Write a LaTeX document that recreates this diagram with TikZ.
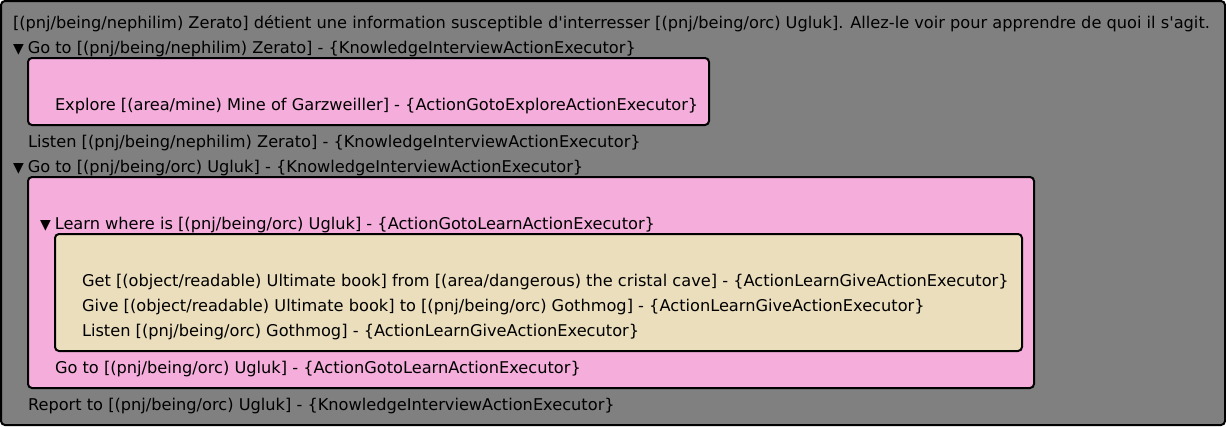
\documentclass[tikz,border=0pt]{standalone}
\usepackage{fontspec}
\setmainfont{DejaVu Sans}
\usepackage{tikz}
\usetikzlibrary{positioning}
\definecolor{questgray}{HTML}{808080}
\definecolor{steppink}{HTML}{F5ADDC}
\definecolor{subbeige}{HTML}{EBDEBD}
\tikzset{ln/.style n args={2}{below=#1 of #2.base west, anchor=base west}}
\newcommand{\foldmark}{{\fontsize{14}{16}\selectfont ▼}\hspace{4pt}}

\begin{document}
\begin{tikzpicture}[x=1pt,y=-1pt,line width=2pt,node distance=25pt]
\tikzstyle{questbox} = [draw=black, fill=questgray, rounded corners=4pt]
\tikzstyle{stepbox} = [draw=black, fill=steppink, rounded corners=4pt]
\tikzstyle{subbox} = [draw=black, fill=subbeige, rounded corners=4pt]
\tikzstyle{line} = [inner sep=0pt, anchor=base west, font=\fontsize{16.2}{19}\selectfont]

\useasboundingbox (0,0) rectangle (1226,426);

% boxes
\draw[questbox] (1,1) rectangle (1225,425);
\draw[stepbox] (28,58) rectangle (709,125);
\draw[stepbox] (28,177) rectangle (1034,388);
\draw[subbox] (55,234) rectangle (1022,351);

% quest
\node[line] (INTRO) at (12,28)
   {[(pnj/being/nephilim) Zerato] détient une information susceptible d\textquotesingle interresser [(pnj/being/orc) Ugluk]. Allez-le voir pour apprendre de quoi il s\textquotesingle agit.};

\node[line] (GOTOZERATO) [ln={25pt}{INTRO}]
   {\foldmark Go to [(pnj/being/nephilim) Zerato] - \{KnowledgeInterviewActionExecutor\}};

\node[line] (EXPLORE) at (54,110)
   {Explore [(area/mine) Mine of Garzweiller] - \{ActionGotoExploreActionExecutor\}};

\node[line] (LISTENZERATO) at (27,147)
   {Listen [(pnj/being/nephilim) Zerato] - \{KnowledgeInterviewActionExecutor\}};

\node[line] (GOTOUGLUK) at (12,172)
   {\foldmark Go to [(pnj/being/orc) Ugluk] - \{KnowledgeInterviewActionExecutor\}};

\node[line] (LEARN) at (39,229)
   {\foldmark Learn where is [(pnj/being/orc) Ugluk] - \{ActionGotoLearnActionExecutor\}};

\node[line] (GETBOOK) at (81,286)
   {Get [(object/readable) Ultimate book] from [(area/dangerous) the cristal cave] - \{ActionLearnGiveActionExecutor\}};

\node[line] (GIVEBOOK) [ln={25pt}{GETBOOK}]
   {Give [(object/readable) Ultimate book] to [(pnj/being/orc) Gothmog] - \{ActionLearnGiveActionExecutor\}};

\node[line] (LISTENGOTHMOG) [ln={25pt}{GIVEBOOK}]
   {Listen [(pnj/being/orc) Gothmog] - \{ActionLearnGiveActionExecutor\}};

\node[line] (GOTOLEARN) at (54,373)
   {Go to [(pnj/being/orc) Ugluk] - \{ActionGotoLearnActionExecutor\}};

\node[line] (REPORT) at (27,410)
   {Report to [(pnj/being/orc) Ugluk] - \{KnowledgeInterviewActionExecutor\}};
\end{tikzpicture}
\end{document}
